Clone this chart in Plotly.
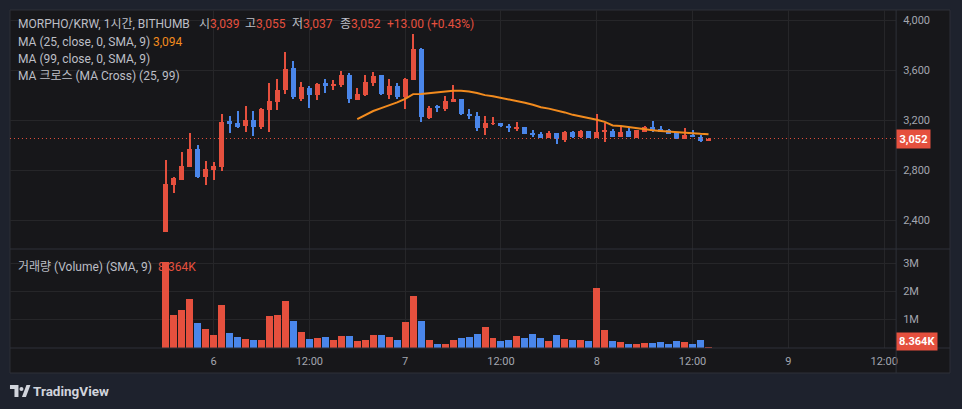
import plotly.graph_objects as go
import pandas as pd

# ---------------- data ----------------
opens = [2306, 2680, 2722, 2826, 2968, 2746, 2800, 2826, 3192, 3176,
         3152, 3200, 3144, 3282, 3344, 3440, 3616, 3368, 3456, 3400,
         3496, 3472, 3480, 3560, 3360, 3400, 3496, 3560, 3400, 3472,
         3384, 3520, 3768, 3216, 3312, 3288, 3344, 3368, 3248, 3232,
         3138, 3168, 3176, 3152, 3128, 3144, 3096, 3088, 3056, 3096,
         3040, 3104, 3064, 3112, 3056, 3108, 3112, 3064, 3112, 3056,
         3104, 3144, 3128, 3120, 3096, 3048, 3080, 3064, 3039]
highs = [2880, 2746, 2944, 3096, 3000, 2872, 2864, 3248, 3232, 3272,
         3312, 3272, 3296, 3496, 3528, 3744, 3672, 3504, 3472, 3496,
         3528, 3520, 3592, 3576, 3456, 3560, 3584, 3560, 3528, 3496,
         3536, 3888, 3776, 3312, 3320, 3392, 3480, 3368, 3288, 3264,
         3232, 3224, 3176, 3168, 3184, 3144, 3120, 3104, 3112, 3096,
         3112, 3112, 3120, 3112, 3248, 3176, 3128, 3144, 3136, 3120,
         3152, 3192, 3152, 3128, 3096, 3136, 3120, 3080, 3055]
lows = [2306, 2616, 2722, 2826, 2738, 2682, 2722, 2794, 3098, 3136,
        3106, 3072, 3128, 3104, 3280, 3408, 3368, 3352, 3296, 3360,
        3416, 3440, 3464, 3336, 3360, 3392, 3472, 3400, 3368, 3368,
        3288, 3520, 3184, 3208, 3264, 3272, 3344, 3240, 3208, 3112,
        3082, 3160, 3144, 3104, 3112, 3088, 3064, 3056, 3056, 3008,
        3024, 3056, 3056, 3056, 3056, 3024, 3064, 3064, 3064, 3056,
        3104, 3104, 3104, 3088, 3048, 3048, 3064, 3024, 3037]
closes = [2688, 2736, 2832, 2968, 2746, 2808, 2832, 3184, 3168, 3144,
          3200, 3144, 3288, 3352, 3440, 3608, 3384, 3464, 3400, 3488,
          3472, 3488, 3560, 3368, 3408, 3504, 3552, 3408, 3472, 3384,
          3528, 3768, 3224, 3296, 3296, 3352, 3368, 3248, 3232, 3136,
          3174, 3176, 3152, 3136, 3144, 3088, 3080, 3056, 3096, 3048,
          3104, 3064, 3112, 3058, 3104, 3112, 3064, 3104, 3064, 3120,
          3144, 3120, 3104, 3088, 3048, 3080, 3064, 3032, 3052]
volumes_m = [3.05, 1.15, 1.34, 1.73, 0.88, 0.66, 0.45, 1.52, 0.52, 0.375,
             0.30, 0.27, 0.27, 1.13, 1.16, 1.66, 0.95, 0.55, 0.30, 0.34,
             0.375, 0.27, 0.41, 0.41, 0.23, 0.27, 0.45, 0.45, 0.375, 0.27,
             0.91, 1.84, 0.95, 0.27, 0.125, 0.125, 0.27, 0.34, 0.375, 0.48,
             0.73, 0.34, 0.23, 0.27, 0.41, 0.34, 0.48, 0.34, 0.23, 0.45,
             0.30, 0.27, 0.27, 0.23, 2.125, 0.62, 0.23, 0.20, 0.125, 0.125,
             0.16, 0.16, 0.20, 0.125, 0.23, 0.20, 0.125, 0.27, 0.008364]
start_time = "2025-03-05 18:00"
x_ticks = ["2025-03-06 00:00", "2025-03-06 12:00", "2025-03-07 00:00", "2025-03-07 12:00",
           "2025-03-08 00:00", "2025-03-08 12:00", "2025-03-09 00:00", "2025-03-09 12:00"]
x_ticktext = ["6", "12:00", "7", "12:00", "8", "12:00", "9", "12:00"]
price_ticks = [2400, 2800, 3200, 3600, 4000]
price_ticktext = ["2,400", "2,800", "3,200", "3,600", "4,000"]
vol_ticks = [1e6, 2e6, 3e6]
vol_ticktext = ["1M", "2M", "3M"]

# ---------------- style ----------------
W, H = 962, 409
RED = "#E5503E"
BLUE = "#4A86EA"
ORANGE = "#F28B1E"
PAGE_BG = "#1E222D"
PANE_BG = "#17171A"
GRID = "#262629"
BORDER = "#2E3038"
TXT = "#BDBFC6"
AXTXT = "#A3A6AF"
FONT = "Roboto, 'Noto Sans CJK KR', sans-serif"


def fx(px):
    return px / W


def fy(py):
    return 1 - py / H


times = pd.date_range(start_time, periods=len(closes), freq="h")
colors = [RED if c >= o else BLUE for o, c in zip(opens, closes)]
HOUR_MS = 3600 * 1000
PX_MS = HOUR_MS / 8  # 8 px per hourly candle

body_base = [min(o, c) for o, c in zip(opens, closes)]
body_h = [max(abs(c - o), 8) for o, c in zip(opens, closes)]
wick_h = [h - l for h, l in zip(highs, lows)]
ma25 = pd.Series(closes).rolling(25).mean()

fig = go.Figure()
fig.add_trace(go.Bar(x=times, y=wick_h, base=lows, width=1 * PX_MS,
                     marker=dict(color=colors, line=dict(width=0)),
                     xaxis="x", yaxis="y", hoverinfo="skip"))
fig.add_trace(go.Bar(x=times, y=body_h, base=body_base, width=5 * PX_MS,
                     marker=dict(color=colors, line=dict(width=0)),
                     xaxis="x", yaxis="y", hoverinfo="skip"))
fig.add_trace(go.Scatter(x=times, y=ma25, mode="lines",
                         line=dict(color=ORANGE, width=2),
                         xaxis="x", yaxis="y", hoverinfo="skip"))
fig.add_trace(go.Bar(x=times, y=[v * 1e6 for v in volumes_m], width=7 * PX_MS,
                     marker=dict(color=colors, line=dict(width=0)),
                     xaxis="x2", yaxis="y2", hoverinfo="skip"))

t0 = times[0]
x_range = [t0 - pd.Timedelta(hours=19.5), t0 + pd.Timedelta(hours=91.5)]

xdom = [fx(10), fx(898)]
common_x = dict(type="date", range=x_range, domain=xdom, showgrid=True,
                gridcolor=GRID, gridwidth=1, zeroline=False, showline=False,
                tickvals=x_ticks, ticktext=x_ticktext, ticks="")
fig.update_layout(
    width=W, height=H, margin=dict(l=0, r=0, t=0, b=0),
    paper_bgcolor=PAGE_BG, plot_bgcolor="rgba(0,0,0,0)",
    barmode="overlay", showlegend=False, bargap=0,
    font=dict(family=FONT, color=TXT),
    xaxis=dict(common_x, anchor="y", showticklabels=False),
    xaxis2=dict(common_x, anchor="y2", matches="x", showticklabels=True,
                tickfont=dict(size=11, color=AXTXT), ticklabelstandoff=5),
    yaxis=dict(domain=[fy(249), fy(10)], range=[2168, 4080], side="right",
               anchor="x", tickvals=price_ticks, ticktext=price_ticktext,
               showgrid=True, gridcolor=GRID, zeroline=False, ticks="",
               tickfont=dict(size=11, color=AXTXT), ticklabelstandoff=6),
    yaxis2=dict(domain=[fy(348), fy(249)], range=[-0.018e6, 3.518e6], side="right",
                anchor="x2", tickvals=vol_ticks, ticktext=vol_ticktext,
                showgrid=True, gridcolor=GRID, zeroline=False, ticks="",
                tickfont=dict(size=11, color=AXTXT), ticklabelstandoff=6),
)

shapes = [
    dict(type="rect", xref="paper", yref="paper", x0=fx(10), x1=fx(952), y0=fy(373), y1=fy(10),
         fillcolor=PANE_BG, line=dict(color=BORDER, width=1), layer="below"),
    dict(type="line", xref="paper", yref="paper", x0=fx(10), x1=fx(952), y0=fy(249), y1=fy(249),
         line=dict(color=BORDER, width=1)),
    dict(type="line", xref="paper", yref="paper", x0=fx(10), x1=fx(952), y0=fy(348), y1=fy(348),
         line=dict(color=BORDER, width=1)),
    dict(type="line", xref="paper", yref="paper", x0=fx(898), x1=fx(898), y0=fy(373), y1=fy(10),
         line=dict(color=BORDER, width=1)),
    dict(type="line", xref="paper", yref="y", x0=fx(10), x1=fx(898), y0=closes[-1], y1=closes[-1],
         line=dict(color=RED, width=1, dash="1px,3px")),
    dict(type="path", xref="paper", yref="paper",
         path="M {},{} L {},{} L {},{} L {},{} L {},{} L {},{} Z".format(
             fx(10), fy(385), fx(18.5), fy(385), fx(18.5), fy(397), fx(14.5), fy(397),
             fx(14.5), fy(389), fx(10), fy(389)),
         fillcolor="#D1D4DC", line=dict(width=0)),
    dict(type="circle", xref="paper", yref="paper", x0=fx(19.5), x1=fx(23.5), y0=fy(391), y1=fy(387),
         fillcolor="#D1D4DC", line=dict(width=0)),
    dict(type="path", xref="paper", yref="paper",
         path="M {},{} L {},{} L {},{} L {},{} Z".format(
             fx(22), fy(397), fx(26.5), fy(385), fx(30.5), fy(385), fx(26), fy(397)),
         fillcolor="#D1D4DC", line=dict(width=0)),
]
fig.update_layout(shapes=shapes)


def label(text, x, y, color=TXT, size=12, **kw):
    fig.add_annotation(text=text, xref="paper", yref="paper", x=fx(x - 2), y=fy(y),
                       xanchor="left", yanchor="middle", showarrow=False,
                       font=dict(size=size, color=color, family=FONT), **kw)


def red_span(s):
    return f"<span style='color:{RED}'>{s}</span>"


label("MORPHO/KRW, 1시간, BITHUMB", 18, 24.5)
label("시" + red_span(f"{opens[-1]:,}"), 199, 24.5)
label("고" + red_span(f"{highs[-1]:,}"), 246, 24.5)
label("저" + red_span(f"{lows[-1]:,}"), 293, 24.5)
label("종" + red_span(f"{closes[-1]:,}"), 341, 24.5)
label("+13.00 (+0.43%)", 388, 24.5, RED)
label("MA (25, close, 0, SMA, 9)", 18, 42)
label("3,094", 153, 42, ORANGE)
label("MA (99, close, 0, SMA, 9)", 18, 58.5)
label("MA 크로스 (MA Cross) (25, 99)", 18, 75.5)
label("거래량 (Volume) (SMA, 9)", 18, 267)
label("8.364K", 158, 267, RED)
label("<b>TradingView</b>", 33, 391, "#D1D4DC", 13.5)

fig.add_annotation(text=f"<b>{closes[-1]:,}</b>", xref="paper", yref="y", x=fx(898), y=closes[-1],
                   xanchor="left", yanchor="middle", showarrow=False, bgcolor=RED,
                   borderpad=2.5, font=dict(size=11, color="#FFFFFF", family=FONT))
fig.add_annotation(text="<b>8.364K</b>", xref="paper", yref="paper", x=fx(898), y=fy(341),
                   xanchor="left", yanchor="middle", showarrow=False, bgcolor=RED,
                   borderpad=2, font=dict(size=11, color="#FFFFFF", family=FONT))

fig.write_html("out.html")
